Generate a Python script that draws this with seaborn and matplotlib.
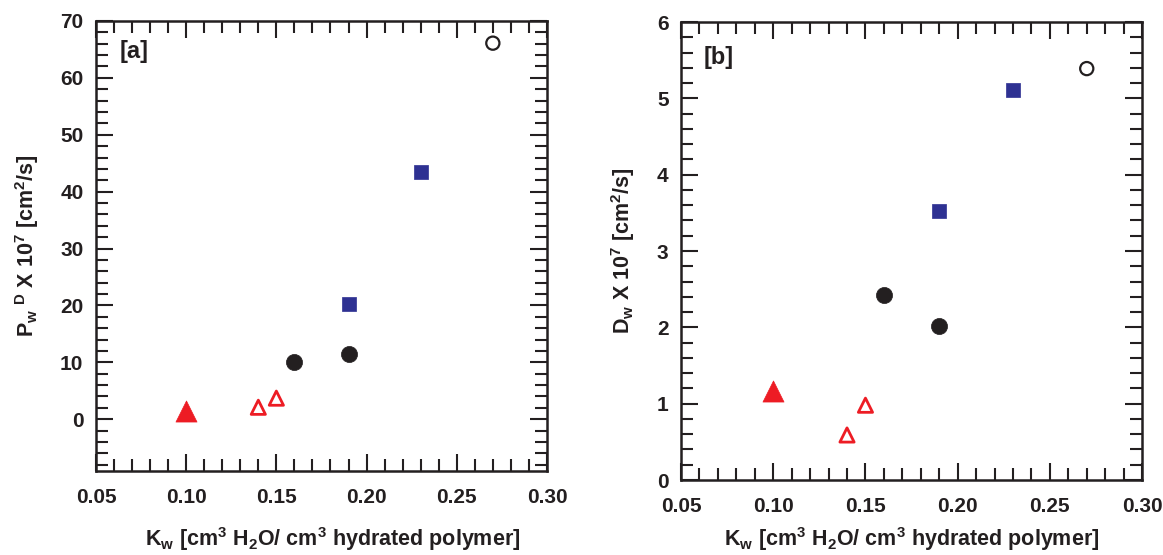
import matplotlib
matplotlib.use("Agg")
import matplotlib.pyplot as plt
from matplotlib.ticker import MultipleLocator, FormatStrFormatter
import seaborn as sns

# ---------------- data ----------------
kw_filled_tri = [0.10]
kw_open_tri = [0.14, 0.15]
kw_circle = [0.16, 0.19]
kw_square = [0.19, 0.23]
kw_open_circle = [0.27]

pwd_filled_tri = [1.4]
pwd_open_tri = [2.1, 3.7]
pwd_circle = [10.0, 11.4]
pwd_square = [20.2, 43.4]
pwd_open_circle = [66.1]

dw_filled_tri = [1.17]
dw_open_tri = [0.59, 0.98]
dw_circle = [2.43, 2.02]
dw_square = [3.53, 5.11]
dw_open_circle = [5.39]

panel_labels = ["[a]", "[b]"]
xlabel = r"K$_{w}$ [cm$^{3}$ H$_{2}$O/ cm$^{3}$ hydrated polymer]"
ylabel_a = r"P$_{w}$$^{\ D}$ X 10$^{7}$ [cm$^{2}$/s]"
ylabel_b = r"D$_{w}$ X 10$^{7}$ [cm$^{2}$/s]"

RED = "#ED1C24"
BLUE = "#2E3192"
BLACK = "#231F20"

sns.set_theme(style="ticks")
plt.rcParams["font.family"] = ["Liberation Sans", "DejaVu Sans"]
plt.rcParams["font.weight"] = "bold"
plt.rcParams["axes.labelweight"] = "bold"
plt.rcParams["mathtext.default"] = "regular"

fig = plt.figure(figsize=(11.63, 5.55), dpi=100)
ax_a = fig.add_axes([0.0825, 0.1514, 0.3878, 0.8108])
ax_b = fig.add_axes([0.5856, 0.1351, 0.3964, 0.8252])


def draw(ax, y_ft, y_ot, y_c, y_s, y_oc):
    sns.scatterplot(x=kw_filled_tri, y=y_ft, ax=ax, marker="^", s=230,
                    color=RED, edgecolor=RED, linewidth=0.5, zorder=3)
    sns.scatterplot(x=kw_open_tri, y=y_ot, ax=ax, marker="^", s=105,
                    color=RED, facecolor="none", edgecolor=RED, linewidth=2.0, zorder=3)
    sns.scatterplot(x=kw_circle, y=y_c, ax=ax, marker="o", s=135,
                    color=BLACK, edgecolor=BLACK, linewidth=0.5, zorder=3)
    sns.scatterplot(x=kw_square, y=y_s, ax=ax, marker="s", s=115,
                    color=BLUE, edgecolor=BLUE, linewidth=0.5, zorder=3)
    sns.scatterplot(x=kw_open_circle, y=y_oc, ax=ax, marker="o", s=90,
                    color=BLACK, facecolor="none", edgecolor=BLACK, linewidth=1.6, zorder=3)


draw(ax_a, pwd_filled_tri, pwd_open_tri, pwd_circle, pwd_square, pwd_open_circle)
draw(ax_b, dw_filled_tri, dw_open_tri, dw_circle, dw_square, dw_open_circle)

ax_a.set_xlim(0.05, 0.30)
ax_a.set_ylim(-9.1, 70)
ax_a.yaxis.set_major_locator(MultipleLocator(10))
ax_a.yaxis.set_minor_locator(MultipleLocator(2))
ax_b.set_xlim(0.05, 0.30)
ax_b.set_ylim(0, 6)
ax_b.yaxis.set_major_locator(MultipleLocator(1))
ax_b.yaxis.set_minor_locator(MultipleLocator(0.2))

settings = [
    (ax_a, panel_labels[0], ylabel_a, (0.053, 0.933), -0.120, 0.524),
    (ax_b, panel_labels[1], ylabel_b, (0.050, 0.922), -0.098, 0.50),
]
for ax, lab, ylab, pos, xl_y, xl_x in settings:
    ax.xaxis.set_major_locator(MultipleLocator(0.05))
    ax.xaxis.set_minor_locator(MultipleLocator(0.01))
    ax.xaxis.set_major_formatter(FormatStrFormatter("%.2f"))
    ax.tick_params(which="both", direction="in", top=True, right=True,
                   color=BLACK, labelcolor=BLACK)
    ax.tick_params(which="major", length=12, width=1.5, labelsize=15, pad=9)
    ax.tick_params(axis="x", which="major", pad=12)
    ax.tick_params(which="minor", length=8.5, width=1.5)
    for sp in ax.spines.values():
        sp.set_visible(True)
        sp.set_linewidth(1.8)
        sp.set_color(BLACK)
    ax.set_xlabel(xlabel, fontsize=15.5, fontweight="bold", color=BLACK)
    ax.xaxis.set_label_coords(xl_x, xl_y)
    ax.set_ylabel(ylab, fontsize=15.5, fontweight="bold", color=BLACK, labelpad=14)
    ax.text(pos[0], pos[1], lab, transform=ax.transAxes, fontsize=17,
            fontweight="bold", color=BLACK, ha="left", va="center")
    for t in ax.get_xticklabels() + ax.get_yticklabels():
        t.set_fontweight("bold")

fig.savefig("out.png", dpi=100)
